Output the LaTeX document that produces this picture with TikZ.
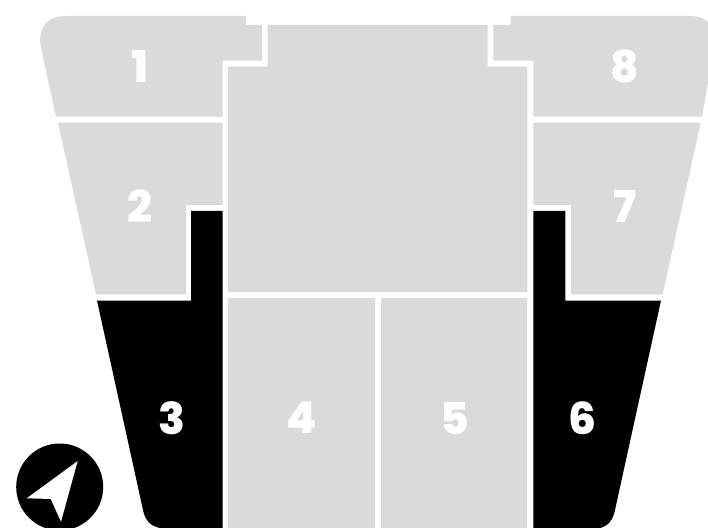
\documentclass[tikz,border=0pt]{standalone}
\usepackage{fontspec}
\setmainfont{Poppins}[BoldFont={Poppins ExtraBold}]
\usepackage{xcolor}
\definecolor{roomgray}{RGB}{218,218,216}

\begin{document}
\begin{tikzpicture}[x=0.75pt, y=-0.75pt,
    room/.style={fill=roomgray},
    soldroom/.style={fill=black},
    num/.style={font=\bfseries\fontsize{33}{33}\selectfont, text=white, inner sep=0pt}
]
\clip (0,0) rectangle (708,528);

% Left rooms
\path[room] (56,116.7) -- (41,48) .. controls (37,28) and (47,16) .. (66,16) -- (246,16) -- (246,25) -- (262,25) -- (262,60.7) -- (222.7,60.7) -- (222.7,116.7) -- cycle;
\path[room] (58,122.7) -- (222.7,122.7) -- (222.7,205) -- (186,205) -- (186,294.3) -- (96,294.3) -- cycle;
\path[soldroom] (97,300.5) -- (191,300.5) -- (191,211) -- (222.7,211) -- (222.7,528) -- (160,528) .. controls (150,526) and (145,520) .. (143,510) -- cycle;

% Centre rooms
\path[room] (267.7,25) -- (487.7,25) -- (487.7,66.7) -- (527.3,66.7) -- (527.3,292) -- (228,292) -- (228,66.7) -- (267.7,66.7) -- cycle;
\path[room] (228,298) -- (375,298) -- (375,528) -- (228,528) -- cycle;
\path[room] (381,298) -- (527.3,298) -- (527.3,528) -- (381,528) -- cycle;

% Right rooms
\path[soldroom] (533.3,211) -- (565.3,211) -- (565.3,300.5) -- (661,300.5) -- (615,510) .. controls (613,520) and (608,526) .. (600,528) -- (533.3,528) -- cycle;
\path[room] (533.3,122.7) -- (700.7,122.7) -- (662.7,294.3) -- (571,294.3) -- (571,205) -- (533.3,205) -- cycle;
\path[room] (702,116.7) -- (714,48) .. controls (718,28) and (708,16) .. (690,16) -- (510.7,16) -- (510.7,25) -- (493.3,25) -- (493.3,60.7) -- (533.3,60.7) -- (533.3,116.7) -- cycle;

% Compass
\fill[black] (59.7,487) circle[radius=43.5];
\fill[white] (77.7,461) -- (26.7,498.3) -- (50.7,499) -- (61,521.7) -- cycle;

% Numbers
\node[num] (one) at (140,66) {1};
\node[num] (two) at (140,206) {2};
\node[num] (three) at (172,418) {3};
\node[num] (four) at (302,418) {4};
\node[num] (five) at (454.7,418) {5};
\node[num] (six) at (582.5,418) {6};
\node[num] (seven) at (625,206) {7};
\node[num] (eight) at (625,66) {8};

\end{tikzpicture}
\end{document}
